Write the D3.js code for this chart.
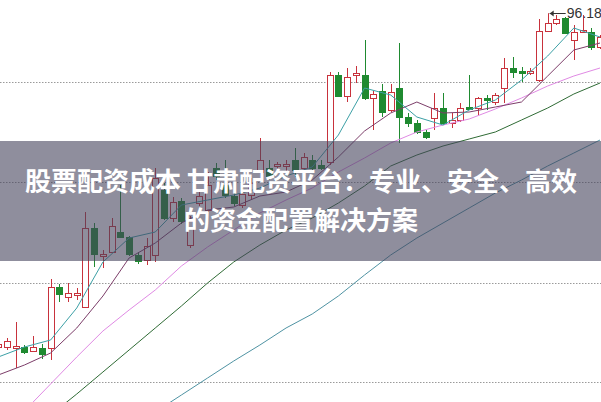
<!DOCTYPE html>
<html><head><meta charset="utf-8">
<script src="https://cdn.jsdelivr.net/npm/d3@7"></script>
<style>html,body{margin:0;padding:0;background:#fff;}svg{display:block;}</style>
</head><body>
<script>
// ---- data (prices) ----
const opens  = [62.8,62.8,62.7,62.8,62.4,62.7,62.7,68.8,67.8,68.0,66.8,74.7,71.9,72.3,74.3,73.8,72.0,71.5,72.0,78.5,75.7,77.4,73.0,77.2,76.5,80.7,79.0,77.9,77.0,78.0,80.3,80.7,80.9,80.9,81.5,80.7,81.5,81.0,81.3,90.0,87.9,90.0,90.0,87.7,88.4,86.5,88.7,85.8,85.2,84.3,85.7,86.7,85.2,85.5,86.8,86.7,87.7,87.3,88.7,90.7,90.4,90.2,89.5,94.4,95.2,95.7,93.5,94.3,94.3,92.8];
const highs  = [63.2,63.7,65.3,63.0,63.9,63.1,69.6,69.1,69.2,68.7,76.3,75.2,72.5,75.7,79.0,73.9,72.3,73.7,80.7,79.2,77.8,77.7,75.9,78.5,80.3,81.2,81.5,78.3,78.7,79.7,83.7,81.5,81.3,81.5,82.7,82.2,82.0,81.5,90.3,90.3,90.7,90.9,93.5,88.4,89.1,89.1,93.2,86.2,85.5,84.5,88.2,88.2,86.2,87.2,90.0,87.8,88.0,88.2,91.7,91.8,90.8,90.7,95.6,96.18,96.0,95.8,95.0,96.0,94.7,94.0];
const lows   = [62.7,62.5,60.7,62.1,62.3,61.6,61.5,67.3,67.3,67.5,66.7,70.8,70.7,72.2,73.7,71.9,71.1,71.0,71.3,75.5,75.3,75.1,72.7,76.9,76.3,79.5,77.7,76.9,76.7,77.5,79.7,79.5,80.2,80.3,79.8,80.5,80.5,80.5,81.0,87.8,87.3,89.2,87.5,84.5,85.8,86.3,83.2,84.8,84.1,83.6,84.5,85.0,84.7,85.3,86.5,86.0,86.5,87.0,87.2,89.7,89.3,90.0,89.3,94.3,95.0,94.1,91.5,94.2,92.5,92.6];
const closes = [63.1,63.4,62.9,62.3,62.8,62.1,68.8,68.1,68.2,68.2,74.7,72.1,72.1,74.9,73.8,72.1,71.4,72.9,79.7,75.7,77.3,75.4,75.4,77.9,79.0,79.9,78.0,77.2,78.1,79.2,81.5,79.9,81.1,81.1,80.5,81.8,80.7,80.7,90.0,87.9,89.8,90.2,87.7,88.1,86.3,88.3,85.8,85.2,84.3,83.8,86.7,85.2,85.5,86.7,86.6,87.7,87.5,88.0,90.7,90.3,90.2,90.4,94.4,95.2,95.6,94.2,94.3,94.5,92.8,93.8];

// moving-average lines sampled every 3rd bar
const maIndex = [0,3,6,9,12,15,18,21,24,27,30,33,36,39,42,45,48,51,54,57,60,63,66,69];
const ma5   = [61.8,62.8,63.5,66.7,71.3,73.7,74.3,77.0,77.5,78.0,78.7,79.9,80.8,84.0,88.7,88.0,85.8,85.0,86.5,87.5,89.5,91.9,94.7,93.8];
const ma10  = [60.0,61.0,62.2,64.7,67.9,71.7,73.2,75.2,76.5,76.8,77.9,78.3,79.5,81.8,84.4,86.2,87.3,86.2,86.3,86.8,87.3,89.9,92.5,93.2];
const ma20  = [53.7,56.4,59.1,61.8,64.4,66.5,68.5,70.9,72.8,74.5,76.2,77.5,78.7,80.3,81.7,83.2,84.3,85.0,85.6,86.6,87.7,88.9,89.9,90.7];
const ma60  = [51.5,53.7,56.0,58.1,60.3,62.5,64.7,66.9,69.2,71.3,73.0,74.5,75.7,77.2,78.9,80.9,82.0,82.9,83.6,84.3,85.5,86.7,88.1,89.2];
const ma120 = [null,null,null,null,52.9,54.6,56.3,58.0,59.7,61.4,63.0,64.7,66.1,67.9,70.0,72.0,73.7,75.2,76.7,78.2,79.5,80.9,82.2,83.5];

const gridPrices = [89.25, 79.25, 69.25, 59.25];
const maxLabel = "96.18";
const titleLines = ["股票配资成本 甘肃配资平台：专业、安全、高效", "的资金配置解决方案"];

// ---- drawing ----
const W = 601, H = 402;
const svg = d3.select("body").append("svg").attr("width", W).attr("height", H);
const idx = d3.range(opens.length);
const x = d3.scalePoint().domain(idx).range([-1.72, 600]);
const y = d3.scaleLinear().domain([97.5, 57.3]).range([0, 402]);

svg.append("rect").attr("width", W).attr("height", H).attr("fill", "#fff");

// grid
svg.append("g").selectAll("line").data(gridPrices).join("line")
  .attr("x1", 0).attr("x2", W)
  .attr("y1", d => Math.round(y(d)) + 0.5).attr("y2", d => Math.round(y(d)) + 0.5)
  .attr("stroke", "#9a9a9a").attr("stroke-width", 1).attr("stroke-dasharray", "1.5,1.5");

const UP = "#c8323c", DOWN = "#1f8a30";
const candles = idx.map(i => ({i, o: opens[i], h: highs[i], l: lows[i], c: closes[i]}));
const g = svg.append("g");
const cx = d => Math.round(x(d.i)) + 0.5;
g.selectAll("line.wick").data(candles).join("line").attr("class", "wick")
  .attr("x1", cx).attr("x2", cx)
  .attr("y1", d => y(d.h)).attr("y2", d => y(d.l))
  .attr("stroke", d => d.c >= d.o ? UP : DOWN).attr("stroke-width", 1);
const bw = 6;
g.selectAll("rect.body").data(candles).join("rect").attr("class", "body")
  .attr("x", d => cx(d) - bw / 2)
  .attr("y", d => Math.round(y(Math.max(d.o, d.c))) + 0.5)
  .attr("width", bw)
  .attr("height", d => Math.max(1, Math.round(Math.abs(y(d.o) - y(d.c)))))
  .attr("fill", d => d.c >= d.o ? "#fff" : DOWN)
  .attr("stroke", d => d.c >= d.o ? UP : DOWN).attr("stroke-width", 1);

// MA lines
const maSeries = [
  {v: ma120, color: "#4f93a3"},
  {v: ma60,  color: "#2f6b35"},
  {v: ma20,  color: "#e08ae4"},
  {v: ma10,  color: "#7c3d69"},
  {v: ma5,   color: "#3ca0a6"}
];
const line = d3.line().defined(d => d[1] != null).x(d => x(d[0])).y(d => y(d[1]));
maSeries.forEach(s => {
  svg.append("path").datum(maIndex.map((k, j) => [k, s.v[j]]))
    .attr("d", line).attr("fill", "none").attr("stroke", s.color).attr("stroke-width", 1);
});

// max label
const hi = d3.max(highs), hiI = highs.indexOf(hi);
const ax = x(hiI) + 2, ay = Math.round(y(hi)) + 0.5;
svg.append("line").attr("x1", ax).attr("x2", ax + 16).attr("y1", ay).attr("y2", ay)
  .attr("stroke", "#333").attr("stroke-width", 1);
svg.append("path").attr("d", `M${ax},${ay} l4,-3 l0,6 z`).attr("fill", "#333");
svg.append("text").attr("x", ax + 17).attr("y", ay + 4.5).text(maxLabel)
  .attr("font-family", "Liberation Sans, Arial, sans-serif").attr("font-size", 14).attr("fill", "#333");

// overlay banner
svg.append("rect").attr("x", 0).attr("y", 141).attr("width", W).attr("height", 120)
  .attr("fill", "rgb(68,67,92)").attr("fill-opacity", 0.6);
svg.append("g").selectAll("text").data(titleLines).join("text")
  .attr("x", 301).attr("y", (d, i) => 191 + i * 39)
  .attr("text-anchor", "middle")
  .attr("font-family", "'Noto Sans CJK SC', sans-serif").attr("font-weight", "bold")
  .attr("font-size", 26).attr("fill", "#fff").text(d => d);
</script>
</body></html>
